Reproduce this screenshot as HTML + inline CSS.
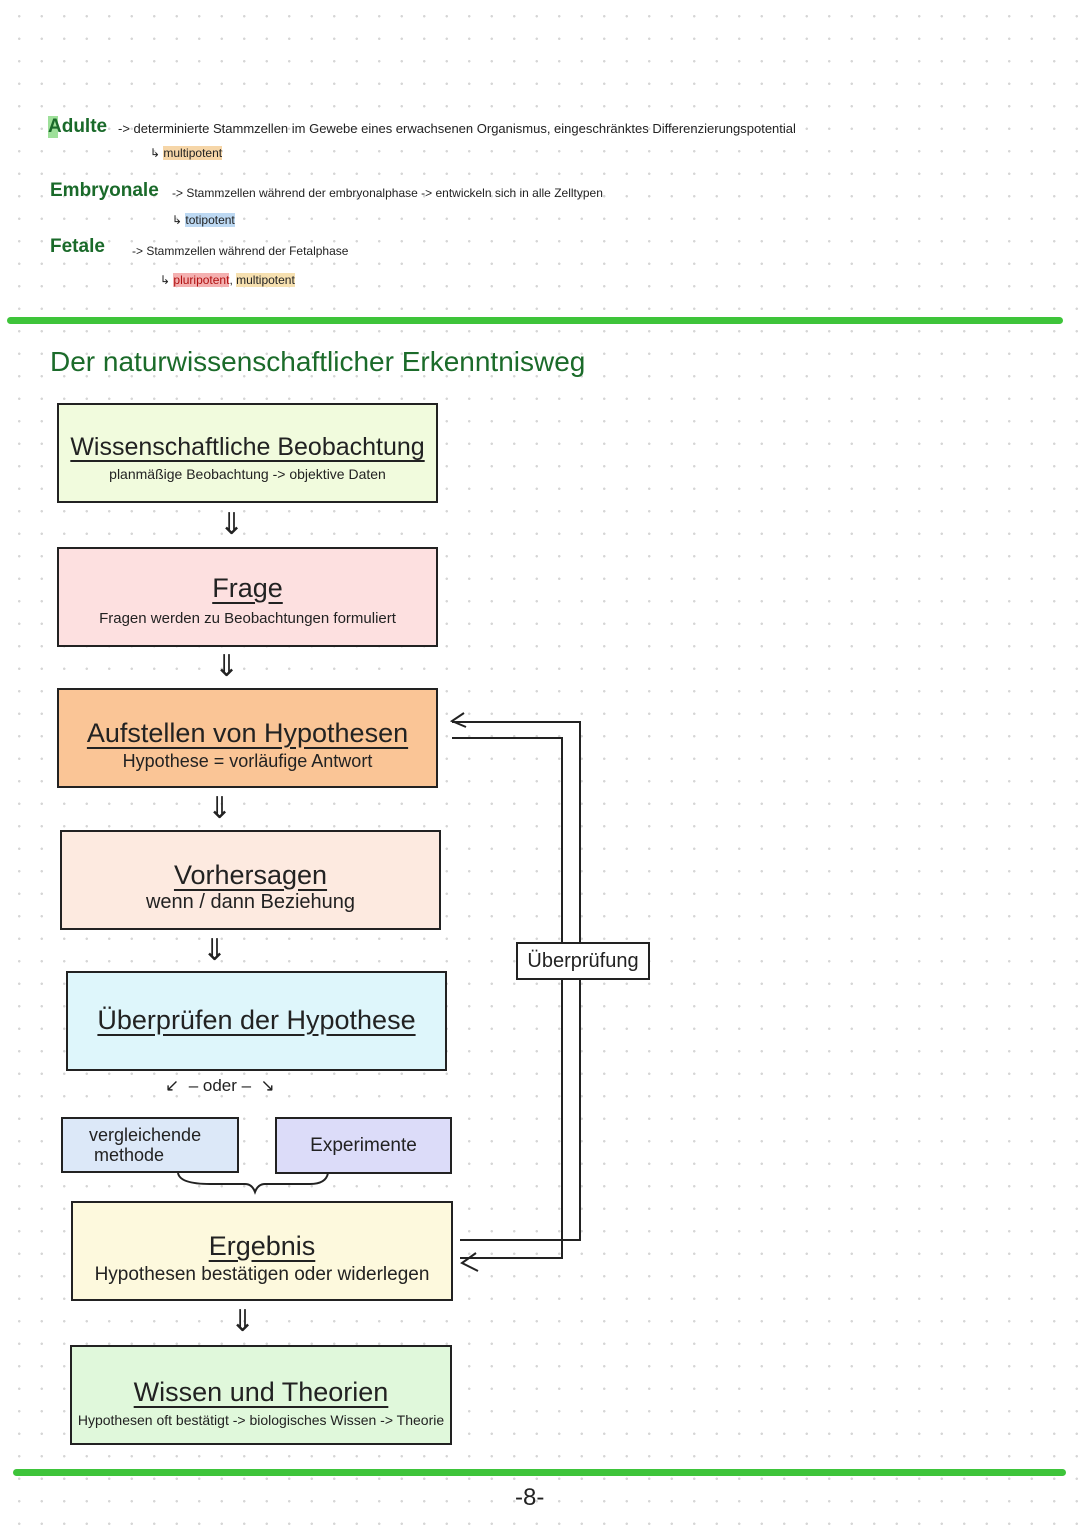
<!DOCTYPE html>
<html><head><meta charset="utf-8"><style>
body{margin:0;width:1080px;height:1525px;position:relative;background-color:#fff;
background-image:radial-gradient(circle,#d6d6d6 1.1px,transparent 1.4px);background-size:22.5px 22.5px;background-position:8px 5px;
font-family:"Liberation Sans",sans-serif;color:#222;overflow:hidden}
.a{position:absolute;white-space:nowrap}
.box{position:absolute;border:2px solid #222;box-sizing:border-box;text-align:center;white-space:nowrap}
.t{font-size:27px;text-decoration:underline;text-underline-offset:5px;display:block}
.s{font-size:15px;display:block}
.bar{position:absolute;height:7px;background:#3ec43a;border-radius:4px}
.arr{position:absolute;font-size:30px;line-height:30px}
</style></head><body>
<div class="a" style="left:48px;top:116px;font-size:19px;font-weight:bold;color:#1a6a2a;background:linear-gradient(90deg,#9ee09a 10px,transparent 10px)">Adulte</div>
<div class="a" style="left:118px;top:121px;font-size:13px">-&gt; determinierte Stammzellen im Gewebe eines erwachsenen Organismus, eingeschränktes Differenzierungspotential</div>
<div class="a" style="left:150px;top:146px;font-size:12px">↳ <span style="background:#f6d6a8">multipotent</span></div>
<div class="a" style="left:50px;top:180px;font-size:19px;font-weight:bold;color:#1a6a2a">Embryonale</div>
<div class="a" style="left:172px;top:186px;font-size:12px">-&gt; Stammzellen während der embryonalphase -&gt; entwickeln sich in alle Zelltypen</div>
<div class="a" style="left:172px;top:213px;font-size:12px">↳ <span style="background:#bcd8f2">totipotent</span></div>
<div class="a" style="left:50px;top:236px;font-size:19px;font-weight:bold;color:#1a6a2a">Fetale</div>
<div class="a" style="left:132px;top:244px;font-size:12px">-&gt; Stammzellen während der Fetalphase</div>
<div class="a" style="left:160px;top:273px;font-size:12px">↳ <span style="background:#f4b0b0;color:#b01010">pluripotent</span>, <span style="background:#f6e0b0">multipotent</span></div>
<div class="bar" style="left:7px;top:317px;width:1056px"></div>
<div class="a" style="left:50px;top:346px;font-size:28px;color:#1b6b2a">Der naturwissenschaftlicher Erkenntnisweg</div>

<div class="box" style="left:57px;top:403px;width:381px;height:100px;background:#f1fbdd;padding-top:28px"><span class="t" style="font-size:25px">Wissenschaftliche Beobachtung</span><span class="s" style="margin-top:4px;font-size:14px">planmäßige Beobachtung -&gt; objektive Daten</span></div>
<div class="arr" style="left:219px;top:510px">⇓</div>
<div class="box" style="left:57px;top:547px;width:381px;height:100px;background:#fde0e0;padding-top:24px"><span class="t">Frage</span><span class="s" style="margin-top:6px">Fragen werden zu Beobachtungen formuliert</span></div>
<div class="arr" style="left:214px;top:652px">⇓</div>
<div class="box" style="left:57px;top:688px;width:381px;height:100px;background:#fac596;padding-top:28px"><span class="t">Aufstellen von Hypothesen</span><span class="s" style="font-size:18px;margin-top:2px">Hypothese = vorläufige Antwort</span></div>
<div class="arr" style="left:207px;top:794px">⇓</div>
<div class="box" style="left:60px;top:830px;width:381px;height:100px;background:#fdeae0;padding-top:28px"><span class="t">Vorhersagen</span><span class="s" style="font-size:20px">wenn / dann Beziehung</span></div>
<div class="arr" style="left:202px;top:936px">⇓</div>
<div class="box" style="left:66px;top:971px;width:381px;height:100px;background:#def6fb;padding-top:32px"><span class="t">Überprüfen der Hypothese</span></div>
<div class="a" style="left:165px;top:1076px;font-size:17px">↙ &nbsp;– oder – &nbsp;↘</div>
<div class="box" style="left:61px;top:1117px;width:178px;height:56px;background:#dce8f8;font-size:18px;line-height:20px;padding-top:6px;text-align:left;padding-left:26px">vergleichende<br>&nbsp;methode</div>
<div class="box" style="left:275px;top:1117px;width:177px;height:57px;background:#dcdcf9;font-size:19px;padding-top:16px">Experimente</div>
<svg class="a" style="left:170px;top:1170px" width="170" height="25"><path d="M8 3 Q10 14 40 14 L75 14 Q82 14 85 22 Q88 14 95 14 L140 14 Q156 14 158 3" fill="none" stroke="#222" stroke-width="2"/></svg>
<div class="box" style="left:71px;top:1201px;width:382px;height:100px;background:#fdf9dd;padding-top:28px"><span class="t">Ergebnis</span><span class="s" style="font-size:19px;margin-top:2px">Hypothesen bestätigen oder widerlegen</span></div>
<div class="arr" style="left:230px;top:1307px">⇓</div>
<div class="box" style="left:70px;top:1345px;width:382px;height:100px;background:#e0f8db;padding-top:30px"><span class="t">Wissen und Theorien</span><span class="s" style="font-size:14px;margin-top:4px">Hypothesen oft bestätigt -&gt; biologisches Wissen -&gt; Theorie</span></div>

<svg class="a" style="left:440px;top:705px" width="160" height="580">
<path d="M12 17 L140 17 L140 535 L20 535" fill="none" stroke="#222" stroke-width="2"/>
<path d="M12 33 L122 33 L122 553 L20 553" fill="none" stroke="#222" stroke-width="2"/>
<path d="M24 8 L12 16 L26 22" fill="none" stroke="#222" stroke-width="2"/>
<path d="M36 548 L22 558 L38 566" fill="none" stroke="#222" stroke-width="2"/>
</svg>
<div class="box" style="left:516px;top:942px;width:134px;height:38px;background:#fff;font-size:20px;padding-top:6px">Überprüfung</div>
<div class="bar" style="left:13px;top:1469px;width:1053px"></div>
<div class="a" style="left:515px;top:1484px;font-size:24px">-8-</div>
</body></html>
